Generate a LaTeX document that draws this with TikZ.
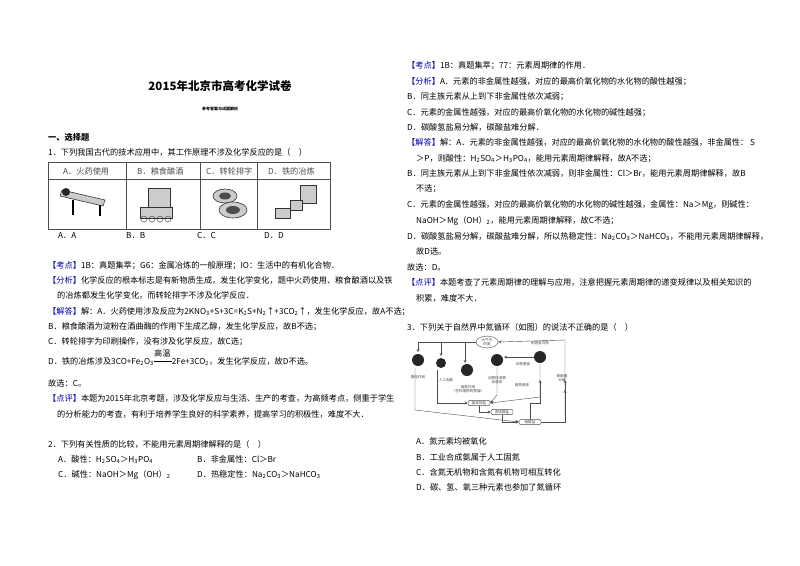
\documentclass[tikz,border=0pt]{standalone}
\usepackage{fontspec}
\setmainfont{Noto Sans CJK SC}
\usetikzlibrary{shapes.geometric}
\newcommand{\dn}[1]{\textsubscript{#1}}
\newcommand{\hl}[1]{\textcolor{blue!70!black}{【#1】}}
\begin{document}
\begin{tikzpicture}[x=1pt,y=-1pt,
  tl/.style={anchor=base west,inner sep=0pt,font=\fontsize{8.2}{9}\selectfont},
  tiny/.style={font=\fontsize{3.6}{4}\selectfont,inner sep=0.5pt,align=center},
  pic/.style={draw=black!80,fill=black!20,line width=0.6pt},
  pbox/.style={draw,rounded corners=2pt,font=\fontsize{3.6}{4}\selectfont,inner sep=1pt,minimum width=22pt},
  ar/.style={->,>=stealth,black!70,line width=0.4pt}]
\useasboundingbox[fill=white] (0,0) rectangle (800,565);
% left column
\node[anchor=base,font=\bfseries\fontsize{11.5}{12}\selectfont] (title) at (220,90) {2015年北京市高考化学试卷};
\node[anchor=base,font=\bfseries\fontsize{4}{5}\selectfont] (sub) at (220,110) {参考答案与试题解析};
\node[tl,font=\bfseries\fontsize{8.2}{9}\selectfont] (s1) at (48,140) {一、选择题};
\node[tl] (q1) at (48,155) {1．下列我国古代的技术应用中，其工作原理不涉及化学反应的是（\quad ）};
\draw[black!70,line width=0.6pt] (48,162) rectangle (330,229) (48,179)--(330,179) (126,162)--(126,229) (200,162)--(200,229) (257,162)--(257,229);
\node[tl,black!70] (ta) at (63,174) {A．火药使用};
\node[tl,black!70] (tb) at (137,174) {B．粮食酿酒};
\node[tl,black!70] (tc) at (206,174) {C．转轮排字};
\node[tl,black!70] (td) at (268,174) {D．铁的冶炼};
% pictures
\draw[pic] (62,190) -- (105,200) -- (103,206) -- (60,196) -- cycle;
\fill[black!85] (66,192) circle (4pt);
\draw[line width=1.5pt] (73,200)--(73,215) (100,205)--(100,216);
\draw[pic] (148,188) rectangle (170,207);
\draw[pic] (140,207) rectangle (172,218);
\foreach \i in {144,152,160,168} \draw[black!80] (\i,219) circle (3pt);
\draw[pic] (225,196) ellipse (12pt and 7pt);
\fill[black!70] (225,196) ellipse (6pt and 3.5pt);
\draw[pic] (233,210) ellipse (14pt and 8pt);
\fill[black!70] (233,210) ellipse (7pt and 4pt);
\draw[pic] (300,185) rectangle (316,203);
\draw[pic] (275,208) rectangle (290,218);
\draw[pic] (290,200) rectangle (302,210);
\node[tl] (a1) at (58,238) {A．A};
\node[tl] (b1) at (126,238) {B．B};
\node[tl] (c1) at (197,238) {C．C};
\node[tl] (d1) at (264,238) {D．D};
\node[tl] (l1) at (48,268) {\hl{考点}1B：真题集萃；G6：金属冶炼的一般原理；IO：生活中的有机化合物．};
\node[tl] (l2) at (48,283) {\hl{分析}化学反应的根本标志是有新物质生成，发生化学变化，题中火药使用、粮食酿酒以及铁};
\node[tl] (l3) at (57,298) {的冶炼都发生化学变化，而转轮排字不涉及化学反应．};
\node[tl] (l4) at (48,314) {\hl{解答}解：A．火药使用涉及反应为2KNO\dn{3}+S+3C=K\dn{2}S+N\dn{2}↑+3CO\dn{2}↑，发生化学反应，故A不选；};
\node[tl] (l5) at (48,329) {B．粮食酿酒为淀粉在酒曲酶的作用下生成乙醇，发生化学反应，故B不选；};
\node[tl] (l6) at (48,344) {C．转轮排字为印刷操作，没有涉及化学反应，故C选；};
\node[tl] (l7) at (48,364) {D．铁的冶炼涉及3CO+Fe\dn{2}O\dn{3}\rule[2.3pt]{18pt}{0.5pt}2Fe+3CO\dn{2}，发生化学反应，故D不选。};
\node[tl] (l7b) at (154,356) {高温};
\node[tl] (l8) at (48,386) {故选：C。};
\node[tl] (l9) at (48,401) {\hl{点评}本题为2015年北京考题，涉及化学反应与生活、生产的考查，为高频考点，侧重于学生};
\node[tl] (l10) at (57,417) {的分析能力的考查，有利于培养学生良好的科学素养，提高学习的积极性，难度不大．};
\node[tl] (q2) at (48,447) {2．下列有关性质的比较，不能用元素周期律解释的是（\quad ）};
\node[tl] (q2a) at (58,462) {A．酸性：H\dn{2}SO\dn{4}＞H\dn{3}PO\dn{4}};
\node[tl] (q2b) at (197,462) {B．非金属性：Cl＞Br};
\node[tl] (q2c) at (58,477) {C．碱性：NaOH＞Mg（OH）\dn{2}};
\node[tl] (q2d) at (197,477) {D．热稳定性：Na\dn{2}CO\dn{3}＞NaHCO\dn{3}};
% right column
\node[tl] (r1) at (407,68) {\hl{考点}1B：真题集萃；77：元素周期律的作用．};
\node[tl] (r2) at (407,84) {\hl{分析}A．元素的非金属性越强，对应的最高价氧化物的水化物的酸性越强；};
\node[tl] (r3) at (407,99) {B．同主族元素从上到下非金属性依次减弱；};
\node[tl] (r4) at (407,115) {C．元素的金属性越强，对应的最高价氧化物的水化物的碱性越强；};
\node[tl] (r5) at (407,130) {D．碳酸氢盐易分解，碳酸盐难分解．};
\node[tl] (r6) at (407,145) {\hl{解答}解：A．元素的非金属性越强，对应的最高价氧化物的水化物的酸性越强，非金属性：\ S};
\node[tl] (r7) at (416,161) {＞P，则酸性：H\dn{2}SO\dn{4}＞H\dn{3}PO\dn{4}，能用元素周期律解释，故A不选；};
\node[tl] (r8) at (407,176) {B．同主族元素从上到下非金属性依次减弱，则非金属性：Cl＞Br，能用元素周期律解释，故B};
\node[tl] (r9) at (416,191) {不选；};
\node[tl] (r10) at (407,207) {C．元素的金属性越强，对应的最高价氧化物的水化物的碱性越强，金属性：Na＞Mg，则碱性：};
\node[tl] (r11) at (416,223) {NaOH＞Mg（OH）\dn{2}，能用元素周期律解释，故C不选；};
\node[tl] (r12) at (407,239) {D．碳酸氢盐易分解，碳酸盐难分解，所以热稳定性：Na\dn{2}CO\dn{3}＞NaHCO\dn{3}，不能用元素周期律解释，};
\node[tl] (r13) at (416,254) {故D选。};
\node[tl] (r14) at (407,270) {故选：D。};
\node[tl] (r15) at (407,285) {\hl{点评}本题考查了元素周期律的理解与应用，注意把握元素周期律的递变规律以及相关知识的};
\node[tl] (r16) at (416,301) {积累，难度不大．};
\node[tl] (q3) at (407,330) {3．下列关于自然界中氮循环（如图）的说法不正确的是（\quad ）};
% nitrogen cycle
\begin{scope}[black!70]
\node[draw,ellipse,tiny,minimum width=22pt,minimum height=11pt] (air) at (487,342) {大气中\\的氮};
\fill[black!85] (418,360) circle (6pt) coordinate (ld);
\fill[black!85] (441,363) circle (5pt) coordinate (rg);
\fill[black!85] (467,370) circle (6pt) coordinate (gd);
\fill[black!85] (497,360) circle (6pt) coordinate (dw);
\fill[black!85] (540,357) circle (6pt) coordinate (zz);
\node[tiny] (tld) at (418,377) {雷电作用};
\node[tiny] (trg) at (446,380) {人工固氮};
\node[tiny] (tgd) at (468,389) {固氮作用\\（豆科植物的根瘤）};
\node[tiny] (tdw) at (497,380) {动物排泄物\\及遗体};
\node[tiny] (tsh) at (523,364) {动物摄食};
\node[tiny] (tzz) at (540,343) {制造蛋白质};
\node[tiny] (tzw) at (522,385) {植物遗体};
\node[tiny] (tfj) at (562,378) {被细菌\\分解};
\node[pbox] (an) at (479,403) {氨或铵盐};
\node[pbox] (yx) at (502,412) {亚硝酸盐};
\node[pbox] (xs) at (530,422) {硝酸盐};
\draw[ar] (air.west) -| (418,352);
\draw[ar] (air.west) -| (441,356);
\draw[ar] (air.west) -| (465,363);
\draw[ar] (565,418) -- (565,340) -- (air.east);
\draw[ar] (534,357) -- (504,357);
\draw[ar] (497,367) -- (497,395) -- (an.east);
\draw[ar] (540,364) -- (540,397) -- (an.east);
\draw[ar] (565,418) -- (565,380);
\draw[ar] (415,368) -- (415,410) -- (xs.west);
\draw[ar] (437,370) -- (437,403) -- (an.west);
\draw[ar] (an.south) |- (yx.west);
\draw[ar] (yx.south) |- (xs.west);
\draw[ar] (xs.east) -| (565,390);
\draw[ar] (xs.north) |- (540,403) -- (540,380);
\end{scope}
\node[tl] (o1) at (416,444) {A．氮元素均被氧化};
\node[tl] (o2) at (416,460) {B．工业合成氨属于人工固氮};
\node[tl] (o3) at (416,475) {C．含氮无机物和含氮有机物可相互转化};
\node[tl] (o4) at (416,490) {D．碳、氢、氧三种元素也参加了氮循环};
\end{tikzpicture}
\end{document}
